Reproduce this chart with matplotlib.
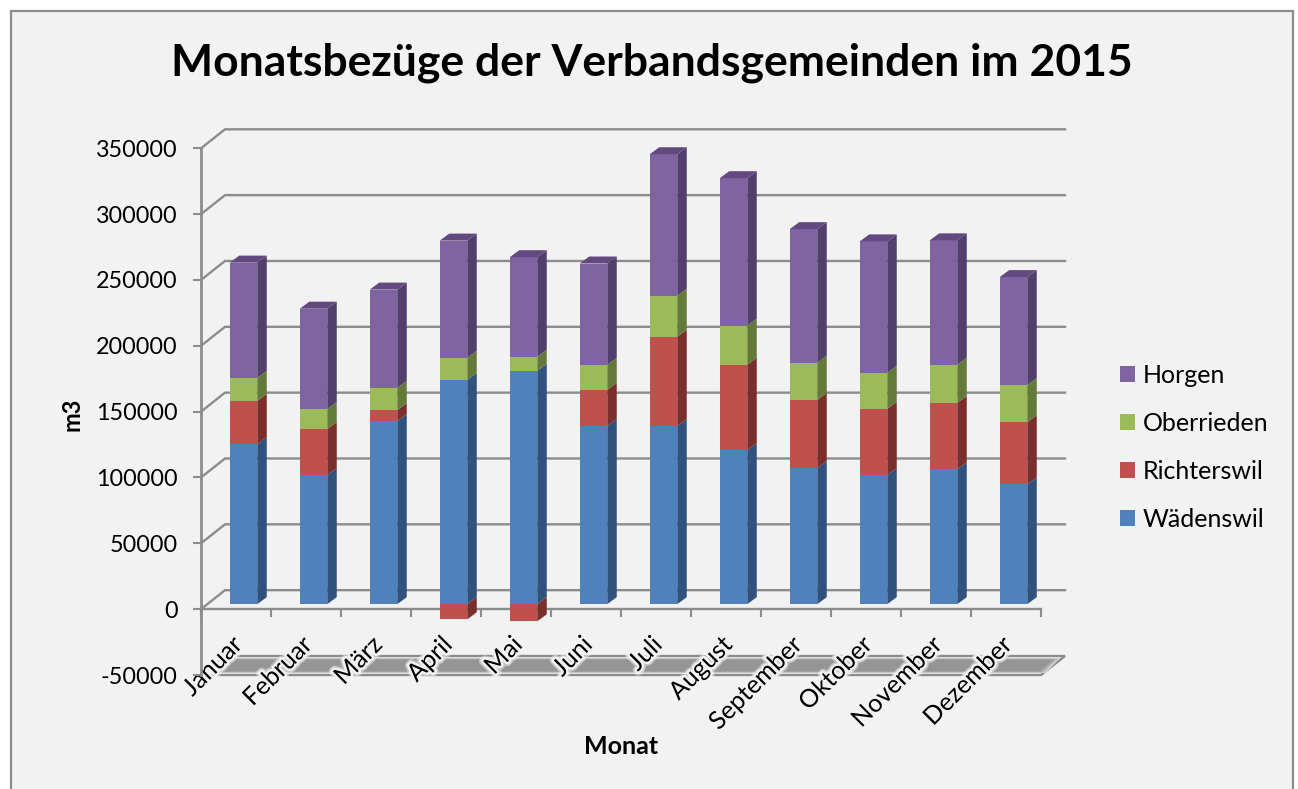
"""
Monatsbezuege der Verbandsgemeinden - stacked column chart with Excel style 3D look
"""

import matplotlib
matplotlib.use("Agg")
import matplotlib.pyplot as plt
import matplotlib.patheffects as pe
from matplotlib.patches import Polygon, Rectangle
from matplotlib.transforms import ScaledTranslation

# -------------------------------
# Data
# -------------------------------
months = ["Januar", "Februar", "März", "April", "Mai", "Juni", "Juli", "August",
          "September", "Oktober", "November", "Dezember"]
waedenswil = [121500, 98000, 139000, 170300, 177200, 135300, 135300, 117000, 103300, 98000, 102500, 91000]
richterswil = [32800, 35000, 8400, -11500, -13000, 27400, 67800, 64800, 51800, 50300, 50300, 47200]
oberrieden = [17500, 15200, 16800, 16800, 10700, 19000, 31200, 29700, 28200, 27400, 29000, 28200]
horgen = [87600, 76200, 74700, 89000, 75600, 77000, 107400, 112000, 101500, 99800, 94500, 82000]
y_ticks = [-50000, 0, 50000, 100000, 150000, 200000, 250000, 300000, 350000]

series_names = ["Wädenswil", "Richterswil", "Oberrieden", "Horgen"]
series_values = [waedenswil, richterswil, oberrieden, horgen]
front_colors = ["#4f81bd", "#c0504d", "#9bbb59", "#8064a2"]
side_colors = ["#30527c", "#7a2f2c", "#647a3a", "#523f6c"]
top_color = "#62497f"

# -------------------------------
# Layout (pixels of the 1298x789 picture)
# -------------------------------
W, H = 1298, 789
BG = "#f2f2f2"
GRAY = "#8c8c8c"
FONT = "Lato"
plt.rcParams["font.family"] = [FONT, "DejaVu Sans"]

fig = plt.figure(figsize=(W / 100, H / 100), dpi=100, facecolor="white")
fig.patches.append(Rectangle((11 / W, -0.05), (1293 - 11) / W, 1.05 - 11 / H, transform=fig.transFigure,
                             facecolor=BG, edgecolor=GRAY, linewidth=1.6, zorder=-1))

ax = fig.add_axes([201 / W, 1 - 675 / H, 840 / W, (675 - 148.3) / H])
ax.patch.set_alpha(0)
ax.set_xlim(0, 12)
ax.set_ylim(-50000, 350000)

PX_X = 12 / 840
PX_Y = 400000 / (675 - 148.3)
WALL_X, WALL_Y = 24 * PX_X, 19 * PX_Y     # depth of the chart box
BAR_X, BAR_Y = 9.5 * PX_X, 7 * PX_Y       # depth of one column
BAR_W = 27.5 * PX_X

# -------------------------------
# Back wall and floor
# -------------------------------
for t in y_ticks[1:]:
    ax.plot([0, WALL_X, 12 + WALL_X], [t, t + WALL_Y, t + WALL_Y], color=GRAY, lw=1.7,
            zorder=1, clip_on=False, solid_joinstyle="miter")

floor = [(0, -50000), (WALL_X, -50000 + WALL_Y), (12 + WALL_X, -50000 + WALL_Y), (12, -50000)]
ax.add_patch(Polygon(floor, closed=True, facecolor=BG, edgecolor=GRAY, lw=1.7, zorder=1, clip_on=False))
# soft dark shadow inside the floor
for i, shade in enumerate(["#d0d0d0", "#b4b4b4", "#a0a0a0", "#959595"]):
    inset_x = (3 + i * 2.5) * PX_X
    inset_y = (2 + i * 0.6) * PX_Y
    ax.add_patch(Polygon([(inset_x + 8 * PX_X, -50000 + inset_y),
                          (inset_x + WALL_X - 2 * PX_X, -50000 + WALL_Y - inset_y),
                          (12 + WALL_X - inset_x - 2 * PX_X, -50000 + WALL_Y - inset_y),
                          (12 - inset_x + 8 * PX_X, -50000 + inset_y)],
                         closed=True, facecolor=shade, edgecolor="none", zorder=1.1, clip_on=False))

# -------------------------------
# Columns
# -------------------------------
# columns stand a little behind the front edge of the box
shift = ScaledTranslation(7.5 / 100, 5 / 100, fig.dpi_scale_trans)
bar_trans = ax.transData + shift
x_pos = [i + 0.5 for i in range(len(months))]

pos_base = [0] * len(months)
legend_handles = []
for name, values, front, side in zip(series_names, series_values, front_colors, side_colors):
    bottoms = []
    for i, v in enumerate(values):
        if v < 0:
            bottoms.append(0)
        else:
            bottoms.append(pos_base[i])
            pos_base[i] += v
    bars = ax.bar(x_pos, values, width=BAR_W, bottom=bottoms, color=front, zorder=3,
                  transform=bar_trans, clip_on=False, label=name)
    legend_handles.append(bars)
    for x, v, b in zip(x_pos, values, bottoms):
        r = x + BAR_W / 2
        ax.add_patch(Polygon([(r, b), (r + BAR_X, b + BAR_Y), (r + BAR_X, b + v + BAR_Y), (r, b + v)],
                             closed=True, facecolor=side, edgecolor="none", zorder=3,
                             transform=bar_trans, clip_on=False))

for x, t in zip(x_pos, pos_base):
    l, r = x - BAR_W / 2, x + BAR_W / 2
    ax.add_patch(Polygon([(l, t), (l + BAR_X, t + BAR_Y), (r + BAR_X, t + BAR_Y), (r, t)],
                         closed=True, facecolor=top_color, edgecolor="none", zorder=3,
                         transform=bar_trans, clip_on=False))

# -------------------------------
# Axes
# -------------------------------
ax.spines["top"].set_visible(False)
ax.spines["right"].set_visible(False)
ax.spines["left"].set_color(GRAY)
ax.spines["left"].set_linewidth(2.0)
ax.spines["bottom"].set_position(("data", 0))
ax.spines["bottom"].set_color(GRAY)
ax.spines["bottom"].set_linewidth(1.7)

ax.set_yticks(y_ticks)
ax.set_yticklabels([str(t) for t in y_ticks])
ax.tick_params(axis="y", length=6, width=1.5, color=GRAY, labelsize=16.8, pad=11, labelcolor="black")

ax.set_xticks(range(13))
ax.set_xticklabels([])
ax.tick_params(axis="x", which="major", length=6, width=1.5, color=GRAY, direction="out")
ax.set_xticks(x_pos, minor=True)
ax.set_xticklabels(months, minor=True)
ax.tick_params(axis="x", which="minor", length=0, labelsize=18, pad=17)
label_shift = ScaledTranslation(-6 / 100, 0, fig.dpi_scale_trans)
for lab in ax.get_xminorticklabels():
    lab.set_rotation(45)
    lab.set_ha("right")
    lab.set_rotation_mode("anchor")
    lab.set_transform(lab.get_transform() + label_shift)
    lab.set_path_effects([pe.withStroke(linewidth=6, foreground=BG, alpha=0.5),
                          pe.withStroke(linewidth=3.5, foreground=BG)])

# -------------------------------
# Texts and legend
# -------------------------------
fig.text(652 / W, 1 - 63 / H, "Monatsbezüge der Verbandsgemeinden im 2015", ha="center", va="center",
         fontsize=32, fontweight="bold", color="black")
fig.text(72 / W, 1 - 414 / H, "m3", rotation=90, ha="center", va="center", fontsize=17, fontweight="bold")
fig.text(621 / W, 1 - 747 / H, "Monat", ha="center", va="center", fontsize=18, fontweight="bold")

handles = [b.patches[0] for b in legend_handles][::-1]
fig.legend(handles, series_names[::-1], loc="upper left", bbox_to_anchor=(1115 / W, 1 - 359 / H),
           frameon=False, fontsize=18, handlelength=0.6, handleheight=0.6, handletextpad=0.3,
           labelspacing=1.0, borderaxespad=0, borderpad=0.2)

plt.savefig("out.png", dpi=100, facecolor="white")
plt.close()
